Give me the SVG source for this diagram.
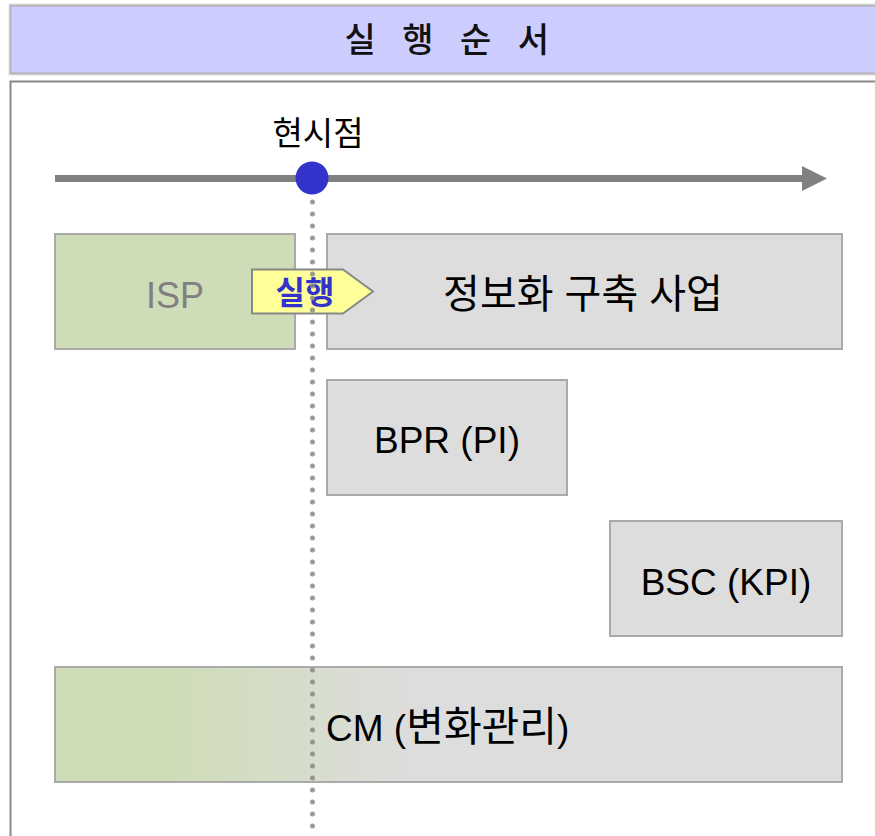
<svg xmlns="http://www.w3.org/2000/svg" width="875" height="836" viewBox="0 0 875 836">
<style>
text{font-family:"Liberation Sans","Noto Sans CJK KR",sans-serif;}
.box{stroke:#AAAAAA;stroke-width:2;}
.gray{fill:#DDDDDD;}
.lbl{font-size:37px;fill:#000;text-anchor:middle;}
</style>
<defs>
<linearGradient id="cmg" x1="0" y1="0" x2="1" y2="0">
<stop offset="0.15" stop-color="#CFDCB8"/>
<stop offset="0.45" stop-color="#DDDDDD"/>
</linearGradient>
</defs>
<rect x="0" y="0" width="875" height="836" fill="#FFFFFF"/>
<g id="header">
<rect x="9" y="4" width="870" height="71" fill="none" stroke="#E0E0E0" stroke-width="1"/>
<rect x="10.5" y="5.5" width="870" height="68" fill="#CCCCFF" stroke="#B3B3B3" stroke-width="2"/>
<text x="451" y="52" font-size="34" text-anchor="middle" letter-spacing="8.5" font-weight="500" fill="#111">실 행 순 서</text>
</g>
<g id="frame">
<rect x="10.5" y="81.5" width="880" height="780" fill="#FFFFFF" stroke="#888888" stroke-width="2"/>
</g>
<g id="timeline">
<line x1="55" y1="178.5" x2="805" y2="178.5" stroke="#808080" stroke-width="7"/>
<polygon points="802,166 827,178.5 802,191" fill="#808080"/>
</g>
<g id="isp">
<rect class="box" x="55" y="234" width="240" height="115" fill="#CFDCB8"/>
<text x="175" y="308" font-size="36" text-anchor="middle" fill="#808080">ISP</text>
</g>
<g id="jeongbohwa">
<rect class="box gray" x="327" y="234" width="515" height="115"/>
<text x="583" y="308" font-size="40" text-anchor="middle" fill="#000">정보화 구축 사업</text>
</g>
<g id="bpr">
<rect class="box gray" x="327" y="380" width="240" height="115"/>
<text class="lbl" x="447" y="453">BPR (PI)</text>
</g>
<g id="bsc">
<rect class="box gray" x="610" y="521" width="232" height="115"/>
<text class="lbl" x="726" y="595">BSC (KPI)</text>
</g>
<g id="cm">
<rect class="box" x="55" y="667" width="787" height="115" fill="url(#cmg)"/>
<text x="326" y="741" font-size="37" fill="#000">CM (<tspan font-size="41">변화관리</tspan>)</text>
</g>
<g id="now">
<text x="318" y="145" font-size="33" text-anchor="middle" fill="#000">현시점</text>
</g>
<g id="exec">
<polygon points="252,269.5 343,269.5 373,291.5 343,313.5 252,313.5" fill="#FFFF99" stroke="#888888" stroke-width="2"/>
<text x="305" y="304" font-size="32" font-weight="bold" text-anchor="middle" fill="#3333CC">실행</text>
</g>
<g id="connectors">
<line x1="312.5" y1="202" x2="312.5" y2="836" stroke="#8A8A8A" stroke-width="5" stroke-linecap="round" stroke-dasharray="0 12" opacity="0.85"/>
</g>
<g id="marker">
<circle cx="312" cy="178" r="16.5" fill="#3333CC"/>
</g>
</svg>
